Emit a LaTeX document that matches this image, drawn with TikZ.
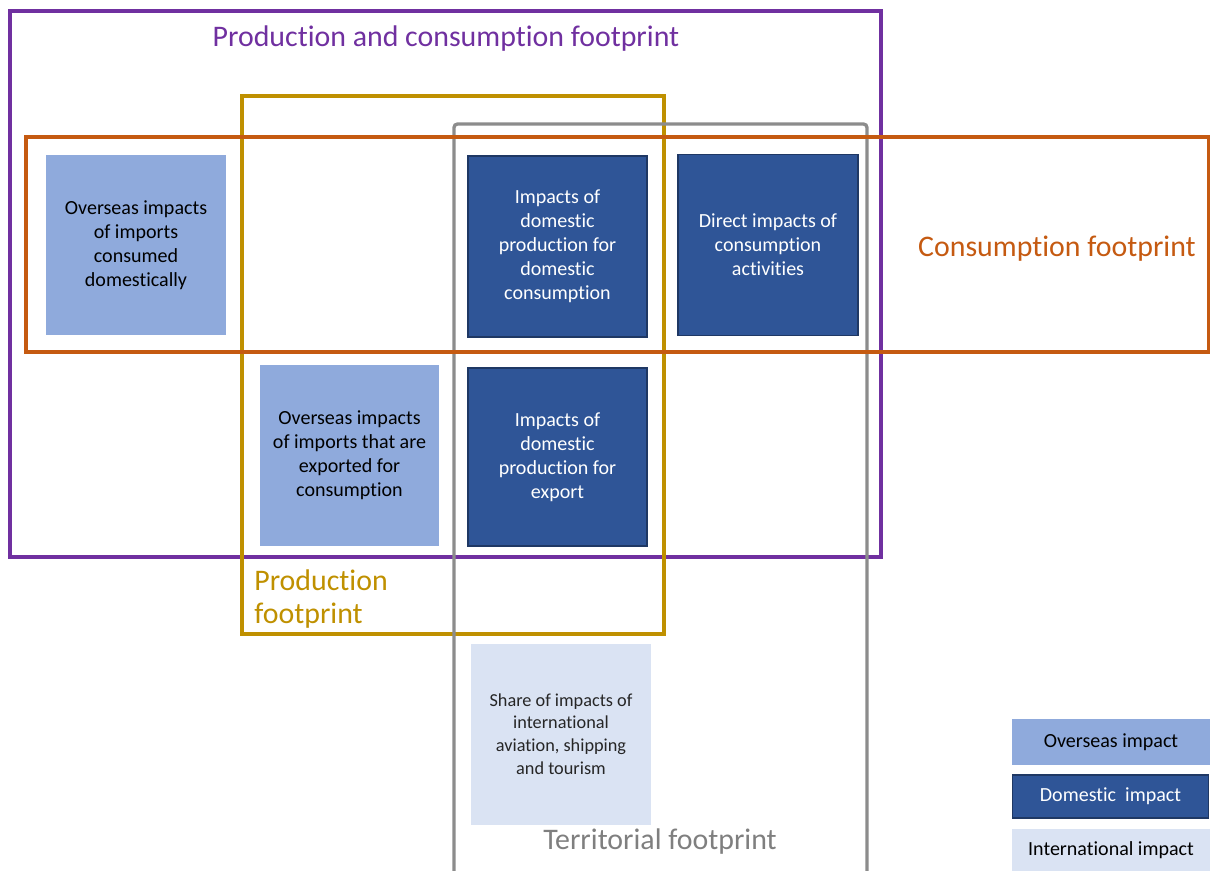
\documentclass[tikz,border=0pt]{standalone}
\usepackage{fontspec}
\setmainfont{Carlito}[Ligatures=NoCommon]
\definecolor{fpurple}{HTML}{7030A0}
\definecolor{fgold}{HTML}{BF9000}
\definecolor{forange}{HTML}{C55A11}
\definecolor{fgrey}{HTML}{8C8C8C}
\definecolor{tgrey}{HTML}{7F7F7F}
\definecolor{overseasblue}{HTML}{8FAADC}
\definecolor{domblue}{HTML}{2F5597}
\definecolor{domedge}{HTML}{1F3864}
\definecolor{intlblue}{HTML}{DAE3F3}
\begin{document}
\begin{tikzpicture}[x=0.02cm, y=-0.02cm,
	box/.style={minimum width=3.6cm, minimum height=3.62cm, align=center, inner sep=0pt, font=\fontsize{11.4}{13.7}\selectfont},
	overseas/.style={box, fill=overseasblue},
	domestic/.style={box, fill=domblue, draw=domedge, line width=0.7pt, text=white},
	intl/.style={box, fill=intlblue, text=black!85, font=\fontsize{10.4}{13}\selectfont},
	frame/.style={line width=1.9pt},
	fplabel/.style={font=\fontsize{17}{19}\selectfont, inner sep=0pt},
	legendbox/.style={minimum width=3.96cm, inner sep=0pt, font=\fontsize{11.4}{13}\selectfont}]
	
	\useasboundingbox (0,0) rectangle (1210,870);
	
	%Rahmen
	\draw[frame, draw=fpurple] (10,11) rectangle (881,557);
	\draw[frame, draw=fgold] (242,96) rectangle (664,634);
	\draw[frame, draw=fgrey, rounded corners=2pt] (454,872) -- (454,124) -- (867,124) -- (867,872);
	\draw[frame, draw=forange] (26,137) rectangle (1209,352);
	
	%Beschriftung der Rahmen
	\node[fplabel, text=fpurple] (pcfp) at (446,39) {Production and consumption footprint};
	\node[fplabel, text=forange] (cfp) at (1057,249) {Consumption footprint};
	\node[fplabel, text=fgold, align=left, anchor=north west] (pfp) at (254,569) {Production\\footprint};
	\node[fplabel, text=tgrey] (tfp) at (660,842) {Territorial footprint};
	
	%Kästen
	\node[overseas] (impcons) at (136,245) {Overseas impacts\\of imports\\consumed\\domestically};
	\node[domestic, minimum width=3.58cm] (domdom) at (557.5,246.5) {Impacts of\\domestic\\production for\\domestic\\consumption};
	\node[domestic] (direct) at (768,245) {Direct impacts of\\consumption\\activities};
	\node[overseas] (impexp) at (349.5,455.5) {Overseas impacts\\of imports that are\\exported for\\consumption};
	\node[domestic, minimum width=3.58cm, minimum height=3.56cm] (domexp) at (557.5,457) {Impacts of\\domestic\\production for\\export};
	\node[intl] (share) at (561,734) {Share of impacts of\\international\\aviation, shipping\\and tourism};
	
	%Legende
	\node[legendbox, fill=overseasblue, minimum height=0.92cm] (lgover) at (1111,742) {Overseas impact};
	\node[legendbox, fill=domblue, draw=domedge, line width=0.7pt, text=white, minimum width=3.92cm, minimum height=0.86cm] (lgdom) at (1110.5,796.5) {Domestic\ \ impact};
	\node[legendbox, fill=intlblue, minimum height=0.84cm] (lgint) at (1111,850) {International impact};
\end{tikzpicture}
\end{document}
